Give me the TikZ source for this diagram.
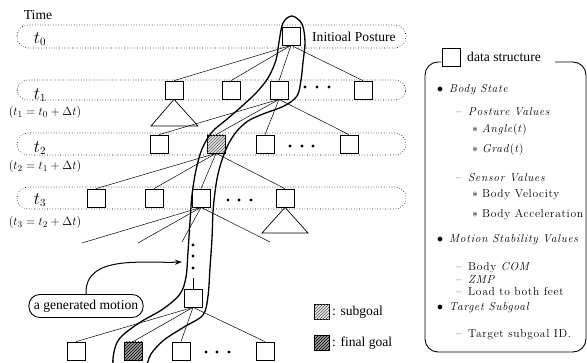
\documentclass[tikz,border=0pt]{standalone}
\usepackage[no-math]{fontspec}
\setmainfont{Liberation Serif}
\newfontfamily\lmfont[LetterSpace=6]{Latin Modern Roman}
\usetikzlibrary{patterns,arrows.meta}
\newcommand{\lvA}[1]{\makebox[12pt][l]{$\bullet$}#1}
\newcommand{\lvB}[1]{\makebox[12pt][l]{\textendash}#1}
\newcommand{\lvC}[1]{\makebox[10pt][l]{$\ast$}#1}
\begin{document}
\begin{tikzpicture}[x=1pt,y=-1pt,
  box/.style={draw,minimum size=18pt,inner sep=0pt,line width=0.7pt,fill=white},
  lbox/.style={draw,minimum size=15pt,inner sep=0pt,line width=0.7pt},
  subg/.style={fill=gray!20,postaction={pattern=north east lines,pattern color=gray!70!black}},
  fing/.style={fill=gray!75,postaction={pattern=north east lines,pattern color=black}},
  band/.style={draw,dotted,line width=0.6pt,rounded corners=11pt},
  conn/.style={line width=0.5pt},
  tloop/.style={line width=1.3pt},
  tri/.style={line width=0.7pt},
  txt/.style={font=\fontsize{13.6}{16}\selectfont,inner sep=0pt},
  tlab/.style={font=\fontsize{16}{18}\selectfont,inner sep=0pt},
  flab/.style={font=\fontsize{12.5}{14}\selectfont,inner sep=0pt},
  item/.style={font=\lmfont\fontsize{11.5}{13}\selectfont,anchor=west,inner sep=0pt},
  dotc/.style={fill,circle,inner sep=0pt,minimum size=3.2pt}]
\useasboundingbox (0,0) rectangle (587,363);
% bands
\draw[band] (17,25) rectangle (406,48);
\draw[band] (17,80) rectangle (406,100);
\draw[band] (17,133) rectangle (406,155);
\draw[band] (17,187) rectangle (406,209);
% labels
\node[txt] (time) at (38,15) {Time};
\node[tlab] (lt0) at (40,39) {$t_0$};
\node[tlab] (lt1) at (40,95) {$t_1$};
\node[tlab] (lt2) at (40,148) {$t_2$};
\node[tlab] (lt3) at (40,200) {$t_3$};
\node[flab] (f1) at (45,113) {$(t_1=t_0+\Delta t)$};
\node[flab] (f2) at (45,167) {$(t_2=t_1+\Delta t)$};
\node[flab] (f3) at (45,223) {$(t_3=t_2+\Delta t)$};
% boxes
\node[box] (b0) at (291,36) {};
\node[txt,anchor=west] (ip) at (312,37) {Initioal Posture};
\node[box] (b1a) at (174,90) {};
\node[box] (b1b) at (231,90) {};
\node[box] (b1c) at (279,90) {};
\node[box] (b1d) at (363,90) {};
\node[box] (b2a) at (159,144) {};
\node[box,subg] (b2b) at (216,144) {};
\node[box] (b2c) at (265,144) {};
\node[box] (b2d) at (349,144) {};
\node[box] (b3a) at (96,198) {};
\node[box] (b3b) at (154,198) {};
\node[box] (b3c) at (201,198) {};
\node[box] (b3d) at (285,198) {};
\node[box] (b4) at (193,298) {};
\node[box] (b5a) at (76,351) {};
\node[box,fing] (b5b) at (133,351) {};
\node[box] (b5c) at (181,351) {};
\node[box] (b5d) at (265,351) {};
\coordinate (e1) at (82,243);
\coordinate (e2) at (138,243);
\coordinate (e3) at (182,242);
\coordinate (e4) at (270,242);
\coordinate (d3e) at (193,278);
% connectors
\foreach \c in {b1a,b1b,b1c,b1d} \draw[conn] (b0.south) -- (\c.north);
\foreach \c in {b2a,b2b,b2c,b2d} \draw[conn] (b1c.south) -- (\c.north);
\foreach \c in {b3a,b3b,b3c,b3d} \draw[conn] (b2b.south) -- (\c.north);
\foreach \c in {e1,e2,e3,e4} \draw[conn] (b3c.south) -- (\c);
\foreach \c in {b5a,b5b,b5c,b5d} \draw[conn] (b4.south) -- (\c.north);
\draw[conn] (d3e) -- (b4.north);
% triangles
\draw[tri] (b1a.south) -- (151,126) -- (198,126) -- cycle;
\draw[tri] (b3d.south) -- (262,233) -- (308,233) -- cycle;
% dots
\foreach \x [count=\i] in {305,317,329} \node[dotc] (h1\i) at (\x,87) {};
\foreach \x [count=\i] in {290,302,313} \node[dotc] (h2\i) at (\x,146) {};
\foreach \x [count=\i] in {228,239,251} \node[dotc] (h3\i) at (\x,200) {};
\foreach \x [count=\i] in {206,217,229} \node[dotc] (h5\i) at (\x,352) {};
\foreach \y [count=\i] in {245,256,268} \node[dotc] (v\i) at (193,\y) {};
% loop
\begin{scope}
\clip (0,0) rectangle (587,363);
\draw[tloop] plot[smooth cycle,tension=0.55] coordinates {
 (292,16) (302,24) (305,42) (303,62) (301,80) (297,96) (284,106) (263,114)
 (248,121) (237,131) (229,143) (223,157) (218,174) (215,192) (213,212)
 (212,238) (210,268) (208,296) (203,315) (184,327) (164,340) (151,354)
 (144,370) (128,378) (114,368) (114,352) (120,338) (139,323) (163,309)
 (180,294) (186,277) (188,252) (190,222) (192,195) (196,170) (202,149)
 (212,132) (226,120) (241,107) (256,93) (268,78) (276,60) (279,42) (283,23)};
\end{scope}
% generated motion
\node[txt,draw,line width=0.9pt,rounded corners=11pt,minimum height=23pt,inner xsep=5pt] (lab) at (86,306) {a generated motion};
\coordinate (arrtip) at (182,262);
\draw[line width=1pt,-{Stealth[length=7pt,width=5pt]}] (lab.north) to[out=92,in=182] (arrtip);
% legend
\node[lbox,subg] (lg1) at (322,312) {};
\node[txt,anchor=west] (lg1t) at (332,312) {: subgoal};
\node[lbox,fing] (lg2) at (322,343) {};
\node[txt,anchor=west] (lg2t) at (332,343) {: final goal};
% panel
\node[box] (pb) at (451,57) {};
\node[txt,anchor=west] (pt) at (467,57) {data structure};
\draw[line width=0.9pt,rounded corners=13pt] (555,62) -- (586,62) -- (586,352) -- (425,352) -- (425,62) -- (441,62);
\node[item] (i1) at (437,90) {\lvA{\textit{Body State}}};
\node[item] (i2) at (456,112) {\lvB{\textit{Posture Values}}};
\node[item] (i3) at (472,130) {\lvC{\textit{Angle}(\textit{t})}};
\node[item] (i4) at (472,150) {\lvC{\textit{Grad}(\textit{t})}};
\node[item] (i5) at (456,178) {\lvB{\textit{Sensor Values}}};
\node[item] (i6) at (472,195) {\lvC{Body Velocity}};
\node[item] (i7) at (472,215) {\lvC{Body Acceleration}};
\node[item] (i8) at (437,240) {\lvA{\textit{Motion Stability Values}}};
\node[item] (i9) at (456,268) {\lvB{Body \textit{COM}}};
\node[item] (i10) at (456,280) {\lvB{\textit{ZMP}}};
\node[item] (i11) at (456,292) {\lvB{Load to both feet}};
\node[item] (i12) at (437,308) {\lvA{\textit{Target Subgoal}}};
\node[item] (i13) at (456,335) {\lvB{Target subgoal ID.}};
\end{tikzpicture}
\end{document}
